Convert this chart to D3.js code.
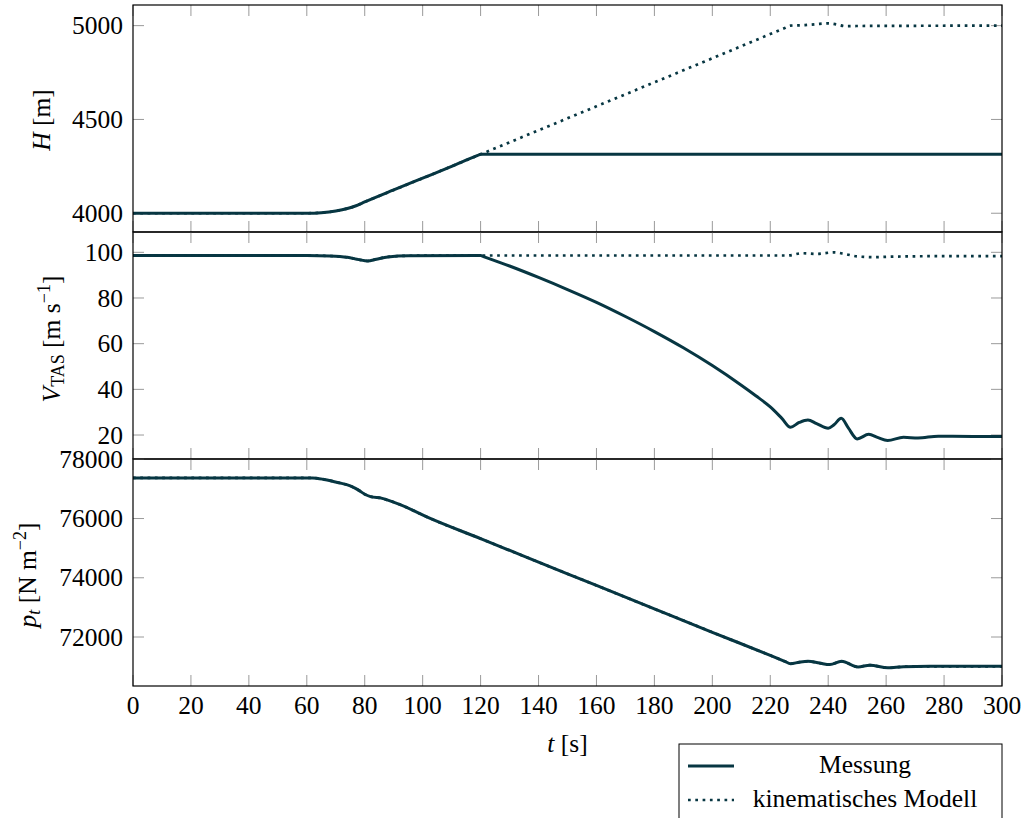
<!DOCTYPE html>
<html>
<head>
<meta charset="utf-8">
<script src="https://cdn.jsdelivr.net/npm/d3@7"></script>
<style>
  body { margin: 0; background: #fff; }
  svg text { font-family: "Liberation Serif", "DejaVu Serif", serif; fill: #000; }
</style>
</head>
<body>
<svg id="chart" width="1025" height="818"></svg>
<script>
// time axis
var xTicks = [0, 20, 40, 60, 80, 100, 120, 140, 160, 180, 200, 220, 240, 260, 280, 300]

// H [m]
var tHmess = [0, 60, 65, 70, 74, 77, 80, 90, 100, 110, 119, 120, 300]
var hMess = [4000, 4000, 4003, 4012, 4025, 4040, 4060, 4124, 4187, 4250, 4308, 4314, 4314]
var tHmod = [0, 60, 65, 70, 74, 77, 80, 90, 100, 110, 120, 140, 160, 180, 200, 220, 225, 227, 232, 236, 240, 243, 246, 250, 300]
var hMod = [4000, 4000, 4003, 4012, 4025, 4040, 4060, 4124, 4187, 4250, 4314, 4442, 4570, 4698, 4826, 4955, 4987, 5000,
            5003, 5008, 5012, 5006, 4997, 4998, 5000]
var hTicks = [4000, 4500, 5000]

// V_TAS [m/s]
var tVmess = [0, 60, 68, 74, 78, 81, 84, 88, 95, 119, 120, 121, 130, 140, 150, 160, 170, 180, 190, 200, 210, 215, 220, 224, 227,
              230, 233, 236, 240, 242, 244.5, 247, 250, 254, 257, 260.5, 266, 271, 278, 290, 300]
var vMess = [98.6, 98.6, 98.4, 97.8, 96.8, 96.2, 97.0, 98.0, 98.5, 98.6, 98.6, 98.15, 94.0, 89.0, 83.7, 78.1, 71.9, 65.3, 58.2, 50.4, 41.8, 37.2, 32.3, 27.3, 23.4,
             25.5, 26.6, 25.0, 23.0, 24.5, 27.3, 23.0, 18.3, 20.3, 19.0, 17.6, 19.0, 18.7, 19.5, 19.4, 19.4]
var tVmod = [0, 60, 68, 74, 78, 81, 84, 88, 95, 120, 226, 231, 236, 242, 246, 250, 256, 262, 275, 300]
var vMod = [98.6, 98.6, 98.4, 97.8, 96.8, 96.2, 97.0, 98.0, 98.5, 98.6, 98.6, 99.6, 99.3, 100.0, 99.2, 98.2, 97.9, 98.1, 98.3, 98.3]
var vTicks = [20, 40, 60, 80, 100]

// p_t [N/m^2]
var tP = [0, 62, 66, 71, 75, 78, 80, 82, 86, 88, 92, 102, 120, 140, 160, 180, 200, 220, 225, 227,
          230, 233, 237, 240.6, 244.6, 250.3, 254.4, 260.6, 266, 275, 300]
var pMess = [77370, 77370, 77320, 77210, 77100, 76950, 76820, 76740, 76680, 76620, 76480, 76030, 75320, 74530, 73740, 72950,
             72160, 71380, 71180, 71100, 71150, 71180, 71120, 71070, 71180, 70990, 71050, 70960, 71000, 71010, 71010]
var pMod = pMess.slice()
var pTicks = [72000, 74000, 76000, 78000]

var lineColor = '#073642'
var fs = 25.5
var left = 133, right = 1002

var svg = d3.select('#chart')

var x = d3.scaleLinear().domain([0, 300]).range([left, right])

var panels = [
  {top: 5, bottom: 232, domain: [3900, 5110], ticks: hTicks,
   series: [[tHmess, hMess], [tHmod, hMod]]},
  {top: 232, bottom: 459, domain: [9.5, 108.9], ticks: vTicks,
   series: [[tVmess, vMess], [tVmod, vMod]]},
  {top: 459, bottom: 686, domain: [70346, 78010], ticks: pTicks,
   series: [[tP, pMess], [tP, pMod]]}
]

panels.forEach(function(p, i) {
  var y = d3.scaleLinear().domain(p.domain).range([p.bottom, p.top])
  var g = svg.append('g')

  var clipId = 'clip' + i
  g.append('clipPath').attr('id', clipId)
    .append('rect').attr('x', left).attr('y', p.top)
    .attr('width', right - left).attr('height', p.bottom - p.top)

  // inward ticks, gray like pgfplots
  g.selectAll('line.xt').data(xTicks).enter().append('line')
    .attr('x1', x).attr('x2', x)
    .attr('y1', p.top).attr('y2', p.top + 11)
    .attr('stroke', '#9a9a9a').attr('stroke-width', 1)
  g.selectAll('line.xb').data(xTicks).enter().append('line')
    .attr('x1', x).attr('x2', x)
    .attr('y1', p.bottom).attr('y2', p.bottom - 11)
    .attr('stroke', '#9a9a9a').attr('stroke-width', 1)
  g.selectAll('line.yl').data(p.ticks).enter().append('line')
    .attr('x1', left).attr('x2', left + 11)
    .attr('y1', y).attr('y2', y)
    .attr('stroke', '#9a9a9a').attr('stroke-width', 1)
  g.selectAll('line.yr').data(p.ticks).enter().append('line')
    .attr('x1', right).attr('x2', right - 11)
    .attr('y1', y).attr('y2', y)
    .attr('stroke', '#9a9a9a').attr('stroke-width', 1)

  g.selectAll('text.ytl').data(p.ticks).enter().append('text')
    .attr('x', left - 10).attr('y', y).attr('dy', '0.34em')
    .attr('text-anchor', 'end').attr('font-size', fs)
    .text(function(d) { return d })

  var line = d3.line()
    .x(function(d) { return x(d[0]) })
    .y(function(d) { return y(d[1]) })
    .curve(d3.curveMonotoneX)

  p.series.forEach(function(s, k) {
    var pts = d3.zip(s[0], s[1])
    g.append('path').datum(pts)
      .attr('clip-path', 'url(#' + clipId + ')')
      .attr('d', line)
      .attr('fill', 'none')
      .attr('stroke', lineColor)
      .attr('stroke-width', k == 0 ? 3 : 2.7)
      .attr('stroke-dasharray', k == 0 ? null : '2.7,4.6')
  })

  g.append('rect')
    .attr('x', left).attr('y', p.top)
    .attr('width', right - left).attr('height', p.bottom - p.top)
    .attr('fill', 'none').attr('stroke', '#000').attr('stroke-width', 1.2)
})

// x tick labels under the last panel
svg.selectAll('text.xtl').data(xTicks).enter().append('text')
  .attr('x', x).attr('y', 714)
  .attr('text-anchor', 'middle').attr('font-size', fs)
  .text(function(d) { return d })

// axis labels
var xl = svg.append('text').attr('x', (left + right) / 2).attr('y', 752)
  .attr('text-anchor', 'middle').attr('font-size', fs)
xl.append('tspan').attr('font-style', 'italic').text('t')
xl.append('tspan').text(' [s]')

var hl = svg.append('text').attr('transform', 'translate(50,120) rotate(-90)')
  .attr('text-anchor', 'middle').attr('font-size', fs)
hl.append('tspan').attr('font-style', 'italic').text('H')
hl.append('tspan').text(' [m]')

var vl = svg.append('text').attr('transform', 'translate(60,339) rotate(-90)')
  .attr('text-anchor', 'middle').attr('font-size', fs)
vl.append('tspan').attr('font-style', 'italic').text('V')
vl.append('tspan').attr('font-size', 18).attr('dy', 4).text('TAS')
vl.append('tspan').attr('dy', -4).text(' [m s')
vl.append('tspan').attr('font-size', 18).attr('dy', -10).text('−1')
vl.append('tspan').attr('dy', 10).text(']')

var pl = svg.append('text').attr('transform', 'translate(36,575) rotate(-90)')
  .attr('text-anchor', 'middle').attr('font-size', fs)
pl.append('tspan').attr('font-style', 'italic').text('p')
pl.append('tspan').attr('font-style', 'italic').attr('font-size', 18).attr('dy', 4).text('t')
pl.append('tspan').attr('dy', -4).text(' [N m')
pl.append('tspan').attr('font-size', 18).attr('dy', -10).text('−2')
pl.append('tspan').attr('dy', 10).text(']')

// legend
var legendItems = ['Messung', 'kinematisches Modell']
var lg = svg.append('g')
lg.append('rect').attr('x', 679).attr('y', 744).attr('width', 323).attr('height', 100)
  .attr('fill', '#fff').attr('stroke', '#000').attr('stroke-width', 1)
lg.selectAll('line.leg').data(legendItems).enter().append('line')
  .attr('x1', 688).attr('x2', 734)
  .attr('y1', function(d, i) { return 766 + i * 34 })
  .attr('y2', function(d, i) { return 766 + i * 34 })
  .attr('stroke', lineColor)
  .attr('stroke-width', function(d, i) { return i == 0 ? 3 : 2.7 })
  .attr('stroke-dasharray', function(d, i) { return i == 0 ? null : '2.7,4.6' })
lg.selectAll('text.leg').data(legendItems).enter().append('text')
  .attr('x', 865).attr('y', function(d, i) { return 773 + i * 34 })
  .attr('text-anchor', 'middle').attr('font-size', fs)
  .text(function(d) { return d })
</script>
</body>
</html>
